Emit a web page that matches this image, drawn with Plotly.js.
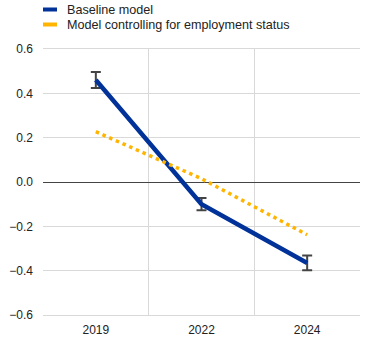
<!DOCTYPE html>
<html>
<head>
<meta charset="utf-8">
<script src="https://cdn.plot.ly/plotly-3.0.1.min.js"></script>
<style>html,body{margin:0;padding:0;background:#fff;}#chart{width:371px;height:357px;}</style>
</head>
<body>
<div id="chart"></div>
<script>
var years = ["2019", "2022", "2024"];
var baseline = [0.46, -0.10, -0.365];
var baselineErr = [0.036, 0.028, 0.033];
var controlled = [0.227, 0.015, -0.238];
var seriesNames = ["Baseline model", "Model controlling for employment status"];
var seriesColors = ["#003299", "#FFB400"];

var traces = [
  {
    x: years, y: baseline, type: "scatter", mode: "lines", name: seriesNames[0],
    line: {color: seriesColors[0], width: 4.5},
    error_y: {type: "data", array: baselineErr, visible: true, color: "#444444", thickness: 2, width: 5},
    showlegend: false
  },
  {
    x: years, y: controlled, type: "scatter", mode: "lines", name: seriesNames[1],
    line: {color: seriesColors[1], width: 3.5, dash: "3.5px,3.8px"},
    showlegend: false
  }
];

var W = 317, H = 266, L = 43, T = 49;
function px(x){ return (x - L) / W; }
function py(y){ return (T + H - y) / H; }
var legendRows = [9.5, 24.5];
var shapes = [], annotations = [];
for (var i = 0; i < seriesNames.length; i++) {
  shapes.push({type: "line", xref: "paper", yref: "paper", x0: px(43), x1: px(57), y0: py(legendRows[i]), y1: py(legendRows[i]),
    line: {color: seriesColors[i], width: 4}});
  annotations.push({xref: "paper", yref: "paper", x: px(65), y: py(legendRows[i] + 0.5), xanchor: "left", yanchor: "middle",
    text: seriesNames[i], showarrow: false, font: {size: 12.6, color: "#222"}});
}

var layout = {
  width: 371, height: 357,
  margin: {l: L, r: 11, t: T, b: 42},
  paper_bgcolor: "#fff", plot_bgcolor: "#fff",
  font: {family: "Liberation Sans, Arial, sans-serif", size: 12, color: "#222"},
  showlegend: false,
  xaxis: {
    type: "category", range: [-0.5, 2.5], tickson: "boundaries", ticks: "",
    showgrid: true, gridcolor: "#d9d9d9", gridwidth: 1,
    showline: true, linecolor: "#d9d9d9", linewidth: 1, mirror: true,
    zeroline: false, ticklabelstandoff: 4,
    tickfont: {size: 12, color: "#222"}
  },
  yaxis: {
    range: [-0.6, 0.6], dtick: 0.2, tick0: 0, tickformat: ".1f",
    showgrid: true, gridcolor: "#d9d9d9", gridwidth: 1,
    zeroline: true, zerolinecolor: "#444", zerolinewidth: 1,
    showline: false, ticks: "", ticklabelstandoff: 9,
    tickfont: {size: 12, color: "#222"}
  },
  shapes: shapes,
  annotations: annotations
};

Plotly.newPlot("chart", traces, layout, {displayModeBar: false, staticPlot: true});
</script>
</body>
</html>
